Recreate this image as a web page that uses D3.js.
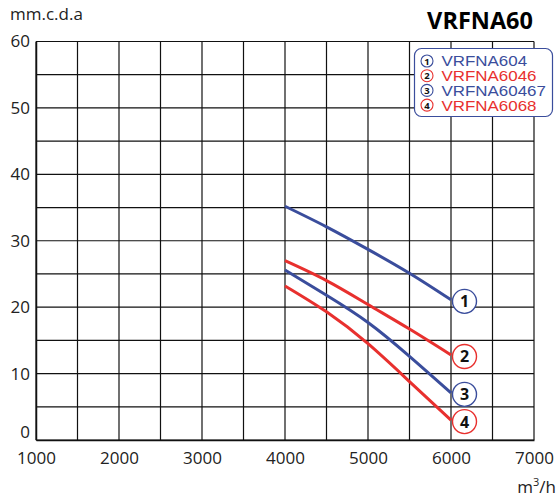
<!DOCTYPE html>
<html><head><meta charset="utf-8">
<script src="https://cdn.jsdelivr.net/npm/d3@7/dist/d3.min.js"></script>
<style>
body{margin:0;background:#fff;}
svg{display:block;}
</style></head>
<body>
<svg id="c" width="560" height="499" font-family="Open Sans, sans-serif"></svg>
<script>
const title = "VRFNA60";
const yLabel = "mm.c.d.a";
const xTicks = [1000,2000,3000,4000,5000,6000,7000];
const yTicks = [0,10,20,30,40,50,60];
const flow = [4000,4500,5000,5500,6000];
const seriesNames = ["VRFNA604","VRFNA6046","VRFNA60467","VRFNA6068"];
const seriesIds = ["1","2","3","4"];
const s1 = [35.2,32.1,28.7,25.1,21.1];
const s2 = [27.0,24.0,20.4,16.7,12.8];
const s3 = [25.6,21.8,17.7,12.6,7.1];
const s4 = [23.2,19.3,14.5,8.8,3.0];
const seriesValues = [s1,s2,s3,s4];
const colors = ["#3a4d9c","#e8302e","#3a4d9c","#e8302e"];

const svg = d3.select("#c");
const x = d3.scaleLinear().domain([1000,7000]).range([36,534]);
const y = d3.scaleLinear().domain([0,60]).range([440,41.5]);

// grid
const g = svg.append("g");
g.selectAll(".vg").data(d3.range(1000,7001,500)).join("line")
  .attr("x1",d=>x(d)).attr("x2",d=>x(d)).attr("y1",y(0)).attr("y2",y(60))
  .attr("stroke","#111").attr("stroke-width",1.2);
g.selectAll(".hg").data(d3.range(0,61,5)).join("line")
  .attr("x1",x(1000)).attr("x2",x(7000)).attr("y1",d=>y(d)).attr("y2",d=>y(d))
  .attr("stroke","#111").attr("stroke-width",1.2);

// axes
const xa = svg.append("g").attr("transform",`translate(0,${y(0)})`)
  .call(d3.axisBottom(x).tickValues(xTicks).tickSize(0).tickPadding(12).tickFormat(d3.format("d")));
xa.select(".domain").attr("stroke","#111").attr("stroke-width",1.5);
xa.selectAll("text").attr("font-size",17).attr("fill","#222").attr("font-family","Open Sans");

const ya = svg.append("g").attr("transform",`translate(${x(1000)},0)`)
  .call(d3.axisLeft(y).tickValues(yTicks).tickSize(0).tickPadding(6));
ya.select(".domain").attr("stroke","#111").attr("stroke-width",1.5);
ya.selectAll("text").attr("font-size",17).attr("fill","#222").attr("font-family","Open Sans")
  .attr("dy",d=>d===0?"-0.12em":"0.32em");

// labels
svg.append("text").attr("x",10).attr("y",20).attr("font-size",17).attr("fill","#222").text(yLabel);
const ml = svg.append("text").attr("x",556).attr("y",493).attr("text-anchor","end").attr("font-size",17).attr("fill","#222");
ml.append("tspan").text("m");
ml.append("tspan").attr("font-size",11).attr("dy",-7).text("3");
ml.append("tspan").attr("dy",7).text("/h");
svg.append("text").attr("x",533).attr("y",29).attr("text-anchor","end")
  .attr("font-size",23.5).attr("font-weight","bold").attr("fill","#000").text(title);

// curves
const line = d3.line().x(d=>x(d[0])).y(d=>y(d[1])).curve(d3.curveNatural);
seriesValues.forEach((vals,i)=>{
  const pts = flow.map((f,j)=>[f,vals[j]]);
  svg.append("path").datum(pts).attr("d",line).attr("fill","none")
    .attr("stroke",colors[i]).attr("stroke-width",3);
});
seriesValues.forEach((vals,i)=>{
  const cx = x(flow[flow.length-1])+13.5, cy = y(vals[vals.length-1])+1.5;
  svg.append("circle").attr("cx",cx).attr("cy",cy).attr("r",12)
    .attr("fill","#fff").attr("stroke",colors[i]).attr("stroke-width",1.4);
  svg.append("text").attr("x",cx).attr("y",cy+6).attr("text-anchor","middle")
    .attr("font-size",16).attr("font-weight","bold").attr("fill","#111").text(seriesIds[i]);
});

// legend
const lg = svg.append("g");
lg.append("rect").attr("x",414.5).attr("y",48.5).attr("width",138).attr("height",68).attr("rx",7)
  .attr("fill","#fff").attr("stroke","#3a4d9c").attr("stroke-width",1.2);
seriesNames.forEach((n,i)=>{
  const cy = 61 + i*14.7;
  lg.append("circle").attr("cx",427).attr("cy",cy).attr("r",6)
    .attr("fill","#fff").attr("stroke",colors[i]).attr("stroke-width",1.1);
  lg.append("text").attr("x",427).attr("y",cy+3.5).attr("text-anchor","middle")
    .attr("font-size",9.5).attr("font-weight","bold").attr("fill","#111").text(seriesIds[i]);
  lg.append("text").attr("transform",`translate(441.5,${cy+5.4}) scale(1.16,1)`)
    .attr("font-size",14.6)
    .attr("font-family","Liberation Sans, Arial, sans-serif").attr("fill",colors[i]).text(n);
});
</script>
</body></html>
